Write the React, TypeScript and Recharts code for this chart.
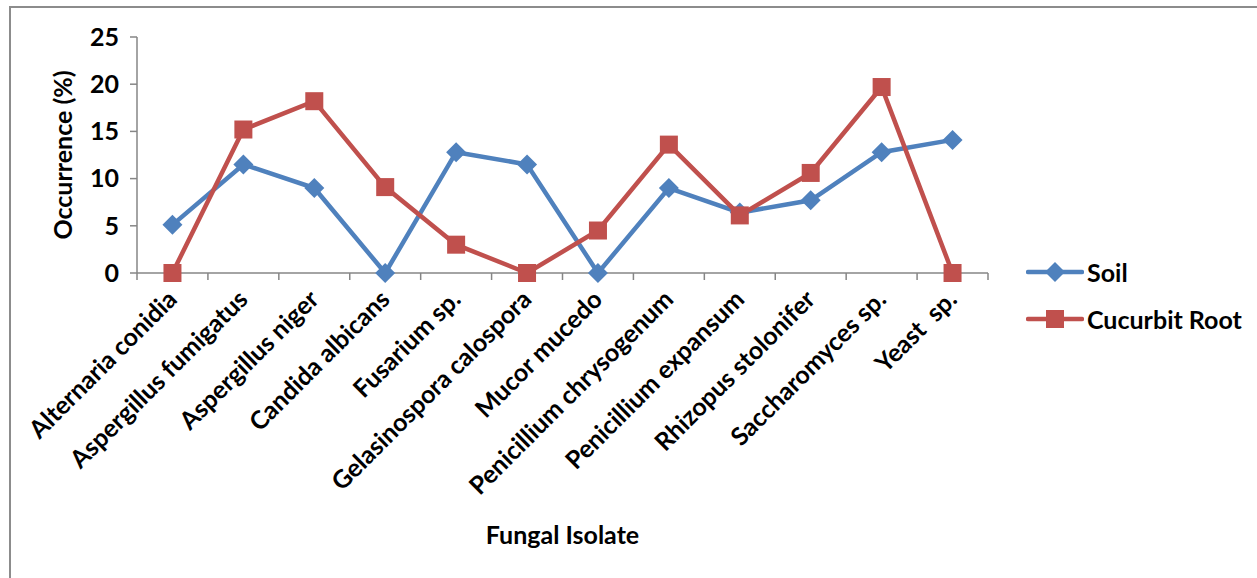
import React from 'react';
import { LineChart, Line, XAxis, YAxis, Legend } from 'recharts';

const categories = [
  'Alternaria conidia',
  'Aspergillus fumigatus',
  'Aspergillus niger',
  'Candida albicans',
  'Fusarium sp.',
  'Gelasinospora calospora',
  'Mucor mucedo',
  'Penicillium chrysogenum',
  'Penicillium expansum',
  'Rhizopus stolonifer',
  'Saccharomyces sp.',
  'Yeast  sp.',
];
const soil = [5.1, 11.5, 9.0, 0, 12.8, 11.5, 0, 9.0, 6.4, 7.7, 12.8, 14.1];
const cucurbitRoot = [0, 15.2, 18.2, 9.1, 3.0, 0, 4.5, 13.6, 6.1, 10.6, 19.7, 0];
const yTicks = [0, 5, 10, 15, 20, 25];
const seriesOrder = ['soil', 'root'];

const data = categories.map((c, i) => ({ name: c, soil: soil[i], root: cucurbitRoot[i] }));

const BLUE = '#4F81BD';
const RED = '#C0504D';
const AXIS = '#868686';
const FONT = 'Lato, "Open Sans", sans-serif';
const FS = 25;

const Diamond = (props: any) => {
  const { cx, cy } = props;
  if (cx == null || cy == null) return null;
  const r = 10;
  return (
    <polygon
      key={`d-${props.index}`}
      points={`${cx},${cy - r} ${cx + r},${cy} ${cx},${cy + r} ${cx - r},${cy}`}
      fill={BLUE}
    />
  );
};

const Square = (props: any) => {
  const { cx, cy } = props;
  if (cx == null || cy == null) return null;
  const s = 18;
  return <rect key={`s-${props.index}`} x={cx - s / 2} y={cy - s / 2} width={s} height={s} fill={RED} />;
};

const XTick = (props: any) => {
  const { x, y, payload, index, visibleTicksCount } = props;
  const off = payload.offset || 0;
  const ax = x + 6;
  const ay = y + 28;
  return (
    <g>
      <line x1={x - off} y1={y} x2={x - off} y2={y + 7} stroke={AXIS} strokeWidth={1.5} />
      {index === visibleTicksCount - 1 && (
        <line x1={x + off} y1={y} x2={x + off} y2={y + 7} stroke={AXIS} strokeWidth={1.5} />
      )}
      <text
        x={ax}
        y={ay}
        textAnchor="end"
        transform={`rotate(-45 ${ax} ${ay})`}
        fontFamily={FONT}
        fontWeight="bold"
        fontSize={FS}
        fill="#000"
        style={{ whiteSpace: 'pre' }}
      >
        {payload.value}
      </text>
    </g>
  );
};

const LegendContent = (props: any) => {
  const payload = [...(props.payload || [])].sort(
    (a: any, b: any) => seriesOrder.indexOf(a.dataKey) - seriesOrder.indexOf(b.dataKey)
  );
  return (
    <div style={{ fontFamily: FONT, fontWeight: 'bold', fontSize: FS, color: '#000' }}>
      {payload.map((p: any, i: number) => (
        <div key={i} style={{ display: 'flex', alignItems: 'center', height: 47 }}>
          <svg width={58} height={24} style={{ marginRight: 3 }}>
            <line x1={2} y1={12} x2={56} y2={12} stroke={p.color} strokeWidth={4.5} strokeLinecap="round" />
            {p.dataKey === 'soil' ? (
              <polygon points="29,2 39,12 29,22 19,12" fill={p.color} />
            ) : (
              <rect x={20} y={3} width={18} height={18} fill={p.color} />
            )}
          </svg>
          <span>{p.value}</span>
        </div>
      ))}
    </div>
  );
};

const YLabel = (props: any) => {
  const { viewBox } = props;
  const cy = viewBox.y + viewBox.height / 2;
  const cx = 62;
  return (
    <text
      x={cx}
      y={cy}
      textAnchor="middle"
      dominantBaseline="central"
      transform={`rotate(-90 ${cx} ${cy})`}
      fontFamily={FONT}
      fontWeight="bold"
      fontSize={FS}
      fill="#000"
    >
      Occurrence (%)
    </text>
  );
};

export default function App() {
  return (
    <div style={{ position: 'absolute', left: 0, top: 0, width: 1257, height: 578, background: '#fff', overflow: 'hidden' }}>
      <div
        style={{
          position: 'absolute',
          left: 9,
          top: 6,
          width: 1400,
          height: 700,
          borderLeft: '2px solid #8c8c8c',
          borderTop: '2px solid #8c8c8c',
        }}
      />
      <div style={{ position: 'absolute', left: 0, top: 0 }}>
        <LineChart width={1257} height={578} data={data} margin={{ top: 37, right: 269, bottom: 0, left: 0 }}>
          <XAxis
            dataKey="name"
            scale="band"
            interval={0}
            height={305}
            tickLine={false}
            tickSize={0}
            tickMargin={0}
            axisLine={{ stroke: AXIS, strokeWidth: 1.5 }}
            tick={<XTick />}
            label={{
              value: 'Fungal Isolate',
              position: 'insideBottom',
              offset: 34,
              fill: '#000',
              fontFamily: FONT,
              fontWeight: 'bold',
              fontSize: FS,
            }}
          />
          <YAxis
            width={137}
            domain={[0, 25]}
            ticks={yTicks}
            interval={0}
            tickSize={7}
            tickMargin={11}
            axisLine={{ stroke: AXIS, strokeWidth: 1.5 }}
            tickLine={{ stroke: AXIS, strokeWidth: 1.5 }}
            tick={{ fill: '#000', fontFamily: FONT, fontWeight: 'bold', fontSize: FS }}
            label={<YLabel />}
          />
          <Legend
            layout="vertical"
            align="center"
            verticalAlign="middle"
            wrapperStyle={{ left: 1026, top: 248, width: 230 }}
            content={<LegendContent />}
          />
          <Line
            type="linear"
            dataKey="soil"
            name="Soil"
            stroke={BLUE}
            strokeWidth={4.5}
            dot={<Diamond />}
            activeDot={false}
            isAnimationActive={false}
          />
          <Line
            type="linear"
            dataKey="root"
            name="Cucurbit Root"
            stroke={RED}
            strokeWidth={4.5}
            dot={<Square />}
            activeDot={false}
            isAnimationActive={false}
          />
        </LineChart>
      </div>
    </div>
  );
}
